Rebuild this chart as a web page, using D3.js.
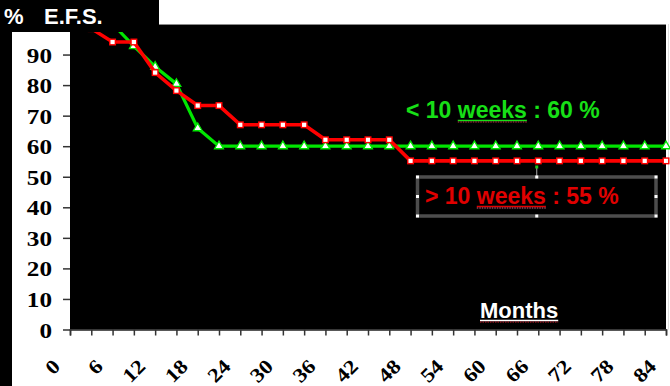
<!DOCTYPE html>
<html>
<head>
<meta charset="utf-8">
<script src="https://cdn.jsdelivr.net/npm/d3@7"></script>
<style>
body { margin: 0; background: #fff; }
svg { display: block; }
</style>
</head>
<body>
<script>
// follow-up in months, one point every 3 months
var months = [0, 3, 6, 9, 12, 15, 18, 21, 24, 27, 30, 33, 36, 39, 42, 45, 48,
              51, 54, 57, 60, 63, 66, 69, 72, 75, 78, 81, 84];
// E.F.S. (%) for diagnosis < 10 weeks
var efsShort = [100, 100, 100, 92.8, 86, 80.4, 65.9, 60, 60, 60, 60, 60, 60, 60, 60, 60, 60,
                60, 60, 60, 60, 60, 60, 60, 60, 60, 60, 60, 60];
// E.F.S. (%) for diagnosis > 10 weeks
var efsLong = [100, 98.5, 94.1, 94.1, 84.1, 78.2, 73.3, 73.3, 67, 67, 67, 67, 62.1, 62.1, 62.1, 62.1, 55.2,
               55.2, 55.2, 55.2, 55.2, 55.2, 55.2, 55.2, 55.2, 55.2, 55.2, 55.2, 55.2];
var yTicks = [0, 10, 20, 30, 40, 50, 60, 70, 80, 90];
var xLabels = [0, 6, 12, 18, 24, 30, 36, 42, 48, 54, 60, 66, 72, 78, 84];

var W = 670, H = 386;
var green = "#00e600", red = "#ff0000";

var x = d3.scaleLinear().domain([0, 84]).range([70, 666]);
var y = d3.scaleLinear().domain([0, 100]).range([329.5, 24]);

var svg = d3.select("body").append("svg")
    .attr("width", W)
    .attr("height", H);

svg.append("rect").attr("width", W).attr("height", H).attr("fill", "#fff");

// plot area
svg.append("rect")
    .attr("x", x(0)).attr("y", y(100))
    .attr("width", x(84) - x(0)).attr("height", y(0) - y(100))
    .attr("fill", "#000");
svg.append("line")
    .attr("x1", 159).attr("x2", x(84)).attr("y1", y(100) + 0.5).attr("y2", y(100) + 0.5)
    .attr("stroke", "#8a8a8a");
svg.append("line")
    .attr("x1", 668.5).attr("x2", 668.5).attr("y1", y(100)).attr("y2", y(0))
    .attr("stroke", "#ddd");

// left black strip
svg.append("rect").attr("x", 0).attr("y", 0).attr("width", 12).attr("height", H).attr("fill", "#000");

// y axis
var yAxis = svg.append("g")
    .attr("transform", "translate(" + x(0) + ",0)")
    .call(d3.axisLeft(y).tickValues(yTicks).tickSize(7).tickFormat(d3.format("d")));
yAxis.select(".domain").remove();
yAxis.selectAll("line").attr("stroke", "#333").attr("stroke-width", 1.5);
yAxis.selectAll("text")
    .attr("x", 0).attr("dy", "0.36em")
    .attr("transform", "translate(-18,0) scale(1.2,1)")
    .style("font-family", "'Liberation Serif', 'Times New Roman', serif")
    .style("font-weight", "bold")
    .style("font-size", "21px")
    .attr("fill", "#000");

// x axis
var xAxis = svg.append("g")
    .attr("transform", "translate(0," + y(0) + ")")
    .call(d3.axisBottom(x).tickValues(months).tickSize(6)
      .tickFormat(function(d) { return xLabels.indexOf(d) >= 0 ? d : ""; }));
xAxis.select(".domain").attr("stroke", "#222").attr("stroke-width", 1.5);
xAxis.selectAll("line").attr("stroke", "#333").attr("stroke-width", 1.5);
xAxis.selectAll("text")
    .attr("x", 0).attr("y", 0).attr("dy", 0)
    .attr("transform", "translate(-9,38) rotate(-45) scale(1.15,1)")
    .style("text-anchor", "end")
    .style("font-family", "'Liberation Serif', 'Times New Roman', serif")
    .style("font-weight", "bold")
    .style("font-size", "20px")
    .attr("fill", "#000");

// curves
var line = d3.line()
    .x(function(d, i) { return x(months[i]); })
    .y(function(d) { return y(d); });

svg.append("path")
    .datum(efsShort)
    .attr("d", line)
    .attr("fill", "none")
    .attr("stroke", green)
    .attr("stroke-width", 3.2);

svg.selectAll(".tri")
    .data(efsShort)
    .enter().append("path")
    .attr("class", "tri")
    .attr("d", d3.symbol().type(d3.symbolTriangle).size(34))
    .attr("transform", function(d, i) { return "translate(" + x(months[i]) + "," + y(d) + ")"; })
    .attr("fill", "#fff")
    .attr("stroke", green)
    .attr("stroke-width", 1.3);

svg.append("path")
    .datum(efsLong)
    .attr("d", line)
    .attr("fill", "none")
    .attr("stroke", red)
    .attr("stroke-width", 3.6);

svg.selectAll(".sq")
    .data(efsLong)
    .enter().append("rect")
    .attr("class", "sq")
    .attr("x", function(d, i) { return x(months[i]) - 2.8; })
    .attr("y", function(d) { return y(d) - 2.8; })
    .attr("width", 5.6).attr("height", 5.6)
    .attr("fill", "#fff")
    .attr("stroke", red)
    .attr("stroke-width", 1.4);

// header box
svg.append("rect").attr("x", 0).attr("y", 0).attr("width", 159).attr("height", 32).attr("fill", "#000");

var sans = "'Liberation Sans', Arial, sans-serif";
svg.append("text").attr("x", 4).attr("y", 24).text("%")
    .attr("fill", "#fff").style("font-family", sans).style("font-weight", "bold").style("font-size", "22px");
svg.append("text").attr("x", 44).attr("y", 24).text("E.F.S.")
    .attr("fill", "#fff").style("font-family", sans).style("font-weight", "bold").style("font-size", "22px");

// labels with underlined "weeks"
function label(tx, ty, str, color, size, under, lineColor) {
  var t = svg.append("text")
      .attr("x", tx).attr("y", ty)
      .attr("fill", color)
      .style("font-family", sans)
      .style("font-weight", "bold")
      .style("font-size", size + "px")
      .text(str);
  if (under) {
    var n = t.node();
    var i0 = str.indexOf(under), i1 = i0 + under.length - 1;
    var a = n.getStartPositionOfChar(i0).x, b = n.getEndPositionOfChar(i1).x;
    svg.append("line")
        .attr("x1", a).attr("x2", b).attr("y1", ty + 2.5).attr("y2", ty + 2.5)
        .attr("stroke", color).attr("stroke-width", 1.5);
    svg.append("line")
        .attr("x1", a).attr("x2", b).attr("y1", ty + 4).attr("y2", ty + 4)
        .attr("stroke", lineColor).attr("stroke-width", 1)
        .attr("stroke-dasharray", "1.5,1");
  }
  return t;
}

label(406, 118, "< 10 weeks : 60 %", "#17e017", 23, "weeks", "#c0304a");

// selection frame around the second label
var bx0 = 417.5, bx1 = 656, by0 = 177, by1 = 216, bxm = (bx0 + bx1) / 2, bym = (by0 + by1) / 2;
svg.append("rect")
    .attr("x", bx0).attr("y", by0).attr("width", bx1 - bx0).attr("height", by1 - by0)
    .attr("fill", "none").attr("stroke", "#4d4d4d").attr("stroke-width", 3.5);
svg.append("line")
    .attr("x1", bxm).attr("x2", bxm).attr("y1", 168).attr("y2", by0)
    .attr("stroke", "#aaa").attr("stroke-width", 1);
svg.append("rect").attr("x", bxm - 1.5).attr("y", 165.5).attr("width", 3).attr("height", 3).attr("fill", "#1ec81e");
var handles = [[bx0, by0], [bxm, by0], [bx1, by0], [bx0, bym], [bx1, bym], [bx0, by1], [bxm, by1], [bx1, by1]];
svg.selectAll(".hdl")
    .data(handles)
    .enter().append("rect")
    .attr("class", "hdl")
    .attr("x", function(d) { return d[0] - 1.5; })
    .attr("y", function(d) { return d[1] - 1.5; })
    .attr("width", 3).attr("height", 3)
    .attr("fill", "#fff");

label(425, 204, "> 10 weeks : 55 %", "#e00000", 23, "weeks", "#d06080");

label(480, 318, "Months", "#fff", 22, "Months", "#d02030");
</script>
</body>
</html>
